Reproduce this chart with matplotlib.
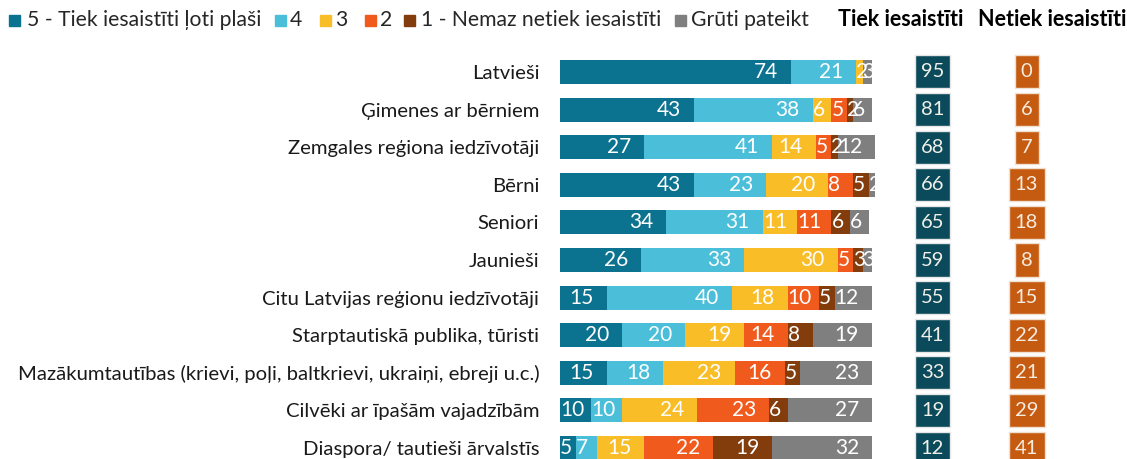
import matplotlib
matplotlib.use('Agg')
import matplotlib.pyplot as plt
import numpy as np

categories = ['Latvieši', 'Ģimenes ar bērniem', 'Zemgales reģiona iedzīvotāji', 'Bērni',
              'Seniori', 'Jaunieši', 'Citu Latvijas reģionu iedzīvotāji',
              'Starptautiskā publika, tūristi',
              'Mazākumtautības (krievi, poļi, baltkrievi, ukraiņi, ebreji u.c.)',
              'Cilvēki ar īpašām vajadzībām', 'Diaspora/ tautieši ārvalstīs']
s5 = [74, 43, 27, 43, 34, 26, 15, 20, 15, 10, 5]
s4 = [21, 38, 41, 23, 31, 33, 40, 20, 18, 10, 7]
s3 = [2, 6, 14, 20, 11, 30, 18, 19, 23, 24, 15]
s2 = [0, 5, 5, 8, 11, 5, 10, 14, 16, 23, 22]
s1 = [0, 2, 2, 5, 6, 3, 5, 8, 5, 6, 19]
s_hard = [3, 6, 12, 2, 6, 3, 12, 19, 23, 27, 32]
tiek = [95, 81, 68, 66, 65, 59, 55, 41, 33, 19, 12]
netiek = [0, 6, 7, 13, 18, 8, 15, 22, 21, 29, 41]
series_names = ['5 - Tiek iesaistīti ļoti plaši', '4', '3', '2',
                '1 - Nemaz netiek iesaistīti', 'Grūti pateikt']
header_tiek = 'Tiek iesaistīti'
header_netiek = 'Netiek iesaistīti'

colors = ['#0b7290', '#4bbfd9', '#f9bd27', '#f05a1c', '#833c0c', '#7f7f7f']
tiek_color = '#0a4a5a'
netiek_color = '#c55a11'

plt.rcParams['font.family'] = ['Lato', 'DejaVu Sans']

W, H = 1127, 459
fig = plt.figure(figsize=(W / 100, H / 100), dpi=100)

row_h = 37.6
top_px = 72 - row_h / 2
ax_h = (H - top_px) / H
ylo = -0.5 + (H - top_px) / row_h

ax = fig.add_axes([560 / W, 0, 312 / W, ax_h])
ax.set_xlim(0, 100)
ax.set_ylim(ylo, -0.5)
for sp in ax.spines.values():
    sp.set_visible(False)
ax.set_xticks([])
ax.set_yticks(range(len(categories)))
ax.set_yticklabels(categories, fontsize=14.6, color='#1a1a1a')
ax.tick_params(axis='y', length=0, pad=15)

series = [s5, s4, s3, s2, s1, s_hard]
y = np.arange(len(categories))
left = np.zeros(len(categories))
renderer = fig.canvas.get_renderer()
px_per_unit = 312 / 100
pad_u = 13 / px_per_unit
for vals, col, name in zip(series, colors, series_names):
    vals = np.array(vals, dtype=float)
    bars = ax.barh(y, vals, left=left, height=24 / row_h, color=col, label=name,
                   edgecolor='none', clip_on=False)
    for rect, v in zip(bars, vals):
        if v == 0:
            continue
        start = rect.get_x()
        end = start + rect.get_width()
        yc = rect.get_y() + rect.get_height() / 2
        t = ax.text(0, yc, f'{int(v)}', ha='center', va='center', color='white',
                    fontsize=15, clip_on=False)
        w = t.get_window_extent(renderer).width / px_per_unit
        cx = max(end - pad_u - w / 2, start + w / 2)
        t.set_x(cx)
    left += vals

# Summary cells
axb = fig.add_axes([0, 0, 1, ax_h], sharey=ax)
axb.set_xlim(0, W)
axb.axis('off')
axb.patch.set_visible(False)
cell_h = 33 / row_h
tiek_w = [35 for v in tiek]
netiek_w = [24 if v < 10 else 36 for v in netiek]
tiek_c, netiek_c = 932.5, 1026.5
axb.barh(y, tiek_w, left=[tiek_c - w / 2 for w in tiek_w], height=cell_h,
         color=tiek_color, edgecolor='#e6e6e6', linewidth=1)
axb.barh(y, netiek_w, left=[netiek_c - w / 2 for w in netiek_w], height=cell_h,
         color=netiek_color, edgecolor='#f0e0d0', linewidth=1)
for i in range(len(categories)):
    axb.text(tiek_c, i, str(tiek[i]), ha='center', va='center', color='#f2efe8',
             fontsize=14.5, clip_on=False)
    axb.text(netiek_c, i, str(netiek[i]), ha='center', va='center', color='#f7ece0',
             fontsize=14.5, clip_on=False)

# Overlay for legend and headers
axo = fig.add_axes([0, 0, 1, 1])
axo.set_xlim(0, W)
axo.set_ylim(H, 0)
axo.axis('off')
axo.patch.set_visible(False)
sq_x = [9, 275, 320, 365, 404, 675]
tx_x = [27, 290, 335, 380, 421, 691]
ly = 20
for sx, tx, col, name in zip(sq_x, tx_x, colors, series_names):
    axo.add_patch(plt.Rectangle((sx, ly - 5.5), 11, 11, color=col))
    axo.text(tx, ly, name, ha='left', va='center', fontsize=15.2, color='#262626')
axo.text(901, ly, header_tiek, ha='center', va='center', fontsize=15.5,
         fontweight='bold', color='#000000')
axo.text(1126, ly, header_netiek, ha='right', va='center', fontsize=15.5,
         fontweight='bold', color='#000000')

fig.savefig('out.png', dpi=100)
